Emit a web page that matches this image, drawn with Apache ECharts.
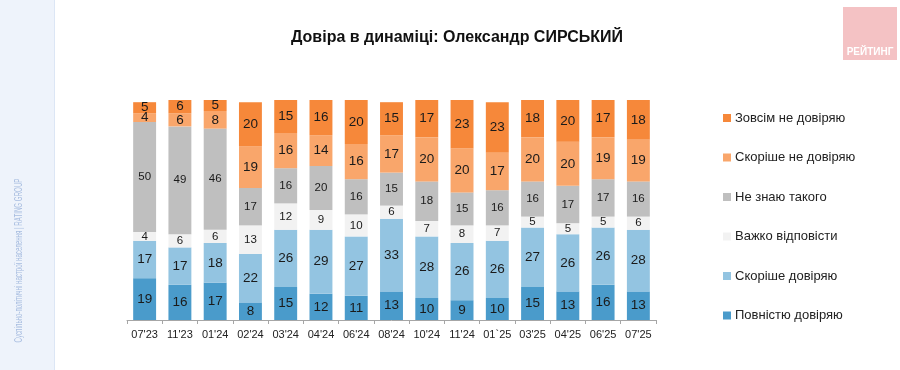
<!DOCTYPE html>
<html>
<head>
<meta charset="utf-8">
<script src="https://cdn.jsdelivr.net/npm/echarts@6/dist/echarts.min.js"></script>
<style>
html,body{margin:0;padding:0;background:#fff;}
#chart{width:900px;height:370px;}
</style>
</head>
<body>
<div id="chart"></div>
<script>
const categories = ["07'23","11'23","01'24","02'24","03'24","04'24","06'24","08'24","10'24","11'24","01`25","03'25","04'25","06'25","07'25"];
const fullTrust   = [19,16,17,8,15,12,11,13,10,9,10,15,13,16,13];
const ratherTrust = [17,17,18,22,26,29,27,33,28,26,26,27,26,26,28];
const hardToSay   = [4,6,6,13,12,9,10,6,7,8,7,5,5,5,6];
const dontKnow    = [50,49,46,17,16,20,16,15,18,15,16,16,17,17,16];
const ratherNot   = [4,6,8,19,16,14,16,17,20,20,17,20,20,19,19];
const notAtAll    = [5,6,5,20,15,16,20,15,17,23,23,18,20,17,18];

const names = ["Повністю довіряю","Скоріше довіряю","Важко відповісти","Не знаю такого","Скоріше не довіряю","Зовсім не довіряю"];
const values = [fullTrust, ratherTrust, hardToSay, dontKnow, ratherNot, notAtAll];
const colors = ["#4A9BCB","#93C4E1","#F2F2F2","#BFBFBF","#F9A66B","#F6883A"];
const labelSizes = [13.5,13.5,11.5,11.5,13.5,13.5];

const FONT = "'Liberation Sans', Arial, sans-serif";

const series = names.map((n,i)=>({
  name:n,
  type:'bar',
  stack:'total',
  barCategoryGap:'35%',
  data:values[i],
  itemStyle:{color:colors[i]},
  label:{show:true, position:'inside', color:'#1a1a1a', fontSize:labelSizes[i], fontFamily:FONT},
  emphasis:{disabled:true}
}));

const chart = echarts.init(document.getElementById('chart'), null, {renderer:'canvas'});
chart.setOption({
  animation:false,
  backgroundColor:'#fff',
  title:{
    text:'Довіра в динаміці: Олександр СИРСЬКИЙ',
    left:452, top:25, textAlign:'center',
    textStyle:{fontFamily:FONT, fontSize:16, fontWeight:'bold', color:'#111'}
  },
  legend:{
    orient:'vertical',
    left:718, top:106,
    icon:'rect', itemWidth:8, itemHeight:8, itemGap:25.5,
    data:names.slice().reverse(),
    textStyle:{fontFamily:FONT, fontSize:13, color:'#222', lineHeight:14, padding:[0,0,0,-1]},
    selectedMode:false
  },
  grid:{left:127, right:244, top:100, bottom:50},
  xAxis:{
    type:'category',
    data:categories,
    axisLine:{lineStyle:{color:'#a6a6a6'}},
    axisTick:{show:true, length:4, lineStyle:{color:'#a6a6a6'}},
    axisLabel:{interval:0, fontFamily:FONT, fontSize:11, color:'#222', margin:9}
  },
  yAxis:{type:'value', min:0, max:100, show:false, splitLine:{show:false}},
  series:series,
  graphic:[
    {type:'rect', left:0, top:0, shape:{width:54, height:370}, style:{fill:'#EEF3FB'}, z:-1},
    {type:'rect', left:54, top:0, shape:{width:1, height:370}, style:{fill:'#DCE6F5'}, z:-1},
    {type:'text', x:19, y:260.5, rotation:Math.PI/2, scaleX:0.56,
      style:{text:'Суспільно-політичні настрої населення | RATING GROUP', fill:'#A8BDE0', font:"11px "+FONT, align:'center', verticalAlign:'middle'}},
    {type:'rect', left:843, top:7, shape:{width:54, height:53}, style:{fill:'#F4C2C4'}},
    {type:'text', x:870, y:52, style:{text:'РЕЙТИНГ', fill:'#ffffff', font:"bold 10px "+FONT, align:'center', verticalAlign:'middle'}}
  ]
});
</script>
</body>
</html>
